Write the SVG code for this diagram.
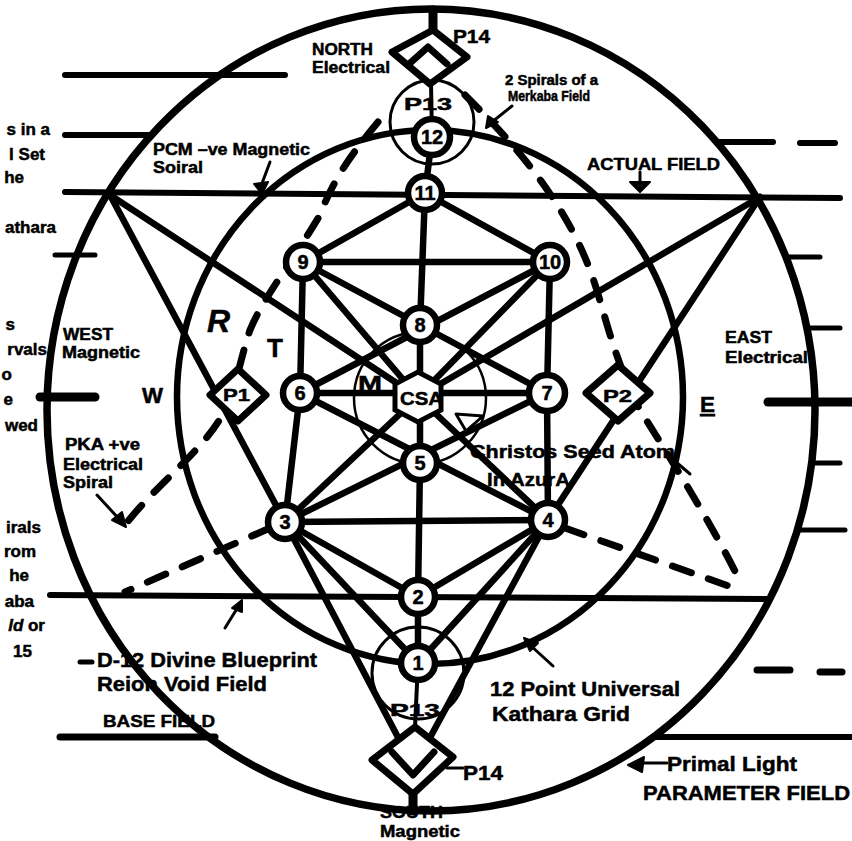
<svg xmlns="http://www.w3.org/2000/svg" width="852" height="841" viewBox="0 0 852 841">
<style>
.k{stroke:#000;fill:none;stroke-linecap:round;stroke-linejoin:round}
.g{stroke-width:6.5}
.dash{stroke:#000;fill:none;stroke-width:7;stroke-dasharray:20 18;stroke-linecap:round}
text{font-family:"Liberation Sans",Arial,sans-serif;font-weight:bold;fill:#000;stroke:#000;stroke-width:0.5}
.lab{font-size:16px}
.cut{font-size:17px;text-anchor:end}
.nd circle{fill:#fff;stroke:#000;stroke-width:6.5}
.nd text{font-size:20px;text-anchor:middle}
.dia{fill:#fff;stroke:#000;stroke-width:7;stroke-linejoin:round}
</style>
<rect width="852" height="841" fill="#fff"/>

<g id="field-lines" class="k">
  <line x1="65" y1="75" x2="285" y2="75" stroke-width="6"/>
  <line x1="65" y1="135" x2="152" y2="135" stroke-width="6"/>
  <line x1="55" y1="255" x2="95" y2="255" stroke-width="5"/>
  <line x1="40" y1="397" x2="95" y2="397" stroke-width="9"/>
  <line x1="50" y1="595" x2="770" y2="599" stroke-width="6"/>
  <line x1="80" y1="662" x2="92" y2="662" stroke-width="5"/>
  <line x1="60" y1="737" x2="215" y2="737" stroke-width="7"/>
  <line x1="717" y1="142" x2="773" y2="142" stroke-width="6"/>
  <line x1="800" y1="143" x2="835" y2="143" stroke-width="6"/>
  <line x1="65" y1="192" x2="840" y2="198" stroke-width="6"/>
  <line x1="785" y1="257" x2="820" y2="257" stroke-width="5"/>
  <line x1="807" y1="328" x2="840" y2="328" stroke-width="5"/>
  <line x1="768" y1="402" x2="852" y2="402" stroke-width="9"/>
  <line x1="812" y1="463" x2="840" y2="463" stroke-width="5"/>
  <line x1="797" y1="530" x2="845" y2="530" stroke-width="5"/>
  <line x1="757" y1="670" x2="790" y2="670" stroke-width="7"/>
  <line x1="820" y1="672" x2="842" y2="672" stroke-width="7"/>
  <line x1="657" y1="737" x2="852" y2="737" stroke-width="6"/>
</g>

<g id="circles" class="k">
  <ellipse cx="431" cy="410" rx="384" ry="401" stroke-width="7.5"/>
  <ellipse cx="430" cy="397" rx="253" ry="267" stroke-width="6.5"/>
  <circle cx="420" cy="398" r="66" stroke-width="2.5"/>
  <circle cx="432" cy="122" r="42" stroke-width="3"/>
  <circle cx="418" cy="673" r="46" stroke-width="3"/>
</g>

<g id="connectors" class="k g">
  <line x1="433" y1="10" x2="433" y2="30" stroke-width="9"/>
  <line x1="432" y1="137" x2="431" y2="83" stroke-width="4"/>
  <line x1="418" y1="663" x2="415" y2="727" stroke-width="4"/>
  <line x1="413" y1="795" x2="413" y2="811" stroke-width="9"/>
  <line x1="432" y1="137" x2="425" y2="193"/>
  <line x1="425" y1="193" x2="420" y2="325"/>
  <line x1="420" y1="325" x2="420" y2="463"/>
  <line x1="420" y1="463" x2="418" y2="597"/>
  <line x1="418" y1="597" x2="418" y2="663"/>
  <line x1="425" y1="193" x2="303" y2="262"/>
  <line x1="425" y1="193" x2="550" y2="262"/>
  <line x1="303" y1="262" x2="550" y2="262"/>
  <line x1="303" y1="262" x2="300" y2="393"/>
  <line x1="300" y1="393" x2="285" y2="522"/>
  <line x1="550" y1="262" x2="547" y2="393"/>
  <line x1="547" y1="393" x2="548" y2="520"/>
  <line x1="303" y1="262" x2="547" y2="393"/>
  <line x1="550" y1="262" x2="300" y2="393"/>
  <line x1="300" y1="393" x2="548" y2="520"/>
  <line x1="547" y1="393" x2="285" y2="522"/>
  <line x1="300" y1="393" x2="547" y2="393"/>
  <line x1="285" y1="522" x2="548" y2="520"/>
  <line x1="285" y1="522" x2="418" y2="597"/>
  <line x1="548" y1="520" x2="418" y2="597"/>
  <line x1="285" y1="522" x2="418" y2="663"/>
  <line x1="548" y1="520" x2="418" y2="663"/>
  <line x1="110" y1="195" x2="285" y2="522"/>
  <line x1="285" y1="522" x2="402" y2="745"/>
  <line x1="760" y1="197" x2="548" y2="520"/>
  <line x1="548" y1="520" x2="426" y2="745"/>
  <line x1="110" y1="195" x2="418" y2="397"/>
  <line x1="760" y1="197" x2="418" y2="397"/>
  <line x1="418" y1="397" x2="548" y2="520"/>
  <line x1="418" y1="397" x2="285" y2="522"/>
  <line x1="303" y1="262" x2="418" y2="397"/>
  <line x1="550" y1="262" x2="418" y2="397"/>
</g>

<g id="spirals">
  <path class="dash" d="M378,122 C355,150 335,175 320,215 C290,265 262,300 250,330 C240,360 238,380 225,410 C205,450 160,480 125,525"/>
  <path class="dash" d="M465,95 C500,130 560,190 590,270 C605,310 610,350 640,410 C665,450 710,520 742,585"/>
  <path class="dash" d="M270,528 L125,592"/>
  <path class="dash" d="M565,528 L740,590"/>
</g>

<g id="diamonds">
  <g id="P14-north">
    <polygon class="dia" points="433,30 467,57 430,84 392,52"/>
    <polyline class="k" stroke-width="7" points="409,64 428,47 447,64"/>
  </g>
  <g id="P14-south">
    <polygon class="dia" points="415,727 453,757 413,794 372,760"/>
    <polyline class="k" stroke-width="7" points="392,752 413,775 434,752"/>
  </g>
  <g id="P1">
    <polygon class="dia" stroke-width="4" points="238,369 266,395 238,421 210,395"/>
    <text x="223" y="401" font-size="17" textLength="27" lengthAdjust="spacingAndGlyphs">P1</text>
  </g>
  <g id="P2">
    <polygon class="dia" stroke-width="5" points="618,365 650,393 618,421 586,393"/>
    <text x="603" y="402" font-size="17" textLength="29" lengthAdjust="spacingAndGlyphs">P2</text>
  </g>
</g>

<g id="nodes">
  <g id="n12" class="nd"><circle cx="432" cy="137" r="18"/><text x="432" y="144">12</text></g>
  <g id="n11" class="nd"><circle cx="425" cy="193" r="17"/><text x="425" y="200">11</text></g>
  <g id="n9" class="nd"><circle cx="303" cy="262" r="17"/><text x="303" y="269">9</text></g>
  <g id="n10" class="nd"><circle cx="550" cy="262" r="17"/><text x="550" y="269">10</text></g>
  <g id="n8" class="nd"><circle cx="420" cy="325" r="17"/><text x="420" y="332">8</text></g>
  <g id="n6" class="nd"><circle cx="300" cy="393" r="17"/><text x="300" y="400">6</text></g>
  <g id="n7" class="nd"><circle cx="547" cy="393" r="18"/><text x="547" y="400">7</text></g>
  <g id="n5" class="nd"><circle cx="420" cy="463" r="17"/><text x="420" y="470">5</text></g>
  <g id="n3" class="nd"><circle cx="285" cy="522" r="17"/><text x="285" y="529">3</text></g>
  <g id="n4" class="nd"><circle cx="548" cy="520" r="17"/><text x="548" y="527">4</text></g>
  <g id="n2" class="nd"><circle cx="418" cy="597" r="17"/><text x="418" y="604">2</text></g>
  <g id="n1" class="nd"><circle cx="418" cy="663" r="17"/><text x="418" y="670">1</text></g>
  <g id="csa">
    <polygon points="418,372 441,384 441,410 418,422 395,410 395,384" fill="#fff" stroke="#000" stroke-width="5"/>
    <text x="400" y="405" font-size="18" textLength="43" lengthAdjust="spacingAndGlyphs">CSA</text>
  </g>
</g>

<g id="pointers" class="k">
  <path d="M270,162 L261,186" stroke-width="3"/>
  <path d="M254,184 L262,194 L268,182 Z" fill="#000" stroke-width="2"/>
  <path d="M512,106 L492,122" stroke-width="3"/>
  <path d="M486,128 L488,116 L498,122 Z" fill="#000" stroke-width="2"/>
  <path d="M640,172 L640,184" stroke-width="3"/>
  <path d="M630,182 L650,182 L640,192 Z" fill="#000" stroke-width="2"/>
  <path d="M97,495 L120,520" stroke-width="3"/>
  <path d="M126,527 L112,520 L122,512 Z" fill="#000" stroke-width="2"/>
  <path d="M553,666 L530,645" stroke-width="3"/>
  <path d="M524,638 L538,643 L530,651 Z" fill="#000" stroke-width="2"/>
  <path d="M643,763 L667,763" stroke-width="3"/>
  <path d="M628,765 L644,757 L642,772 Z" fill="#000" stroke-width="2"/>
  <path d="M447,768 L463,768" stroke-width="3"/>
  <path d="M676,462 L690,474" stroke-width="3"/>
  <path d="M225,628 L238,607" stroke-width="3"/>
  <path d="M242,600 L232,608 L242,612 Z" fill="#000" stroke-width="2"/>
  <polygon points="456,414 483,416 466,431" fill="none" stroke="#000" stroke-width="3"/>
</g>

<g id="labels">
  <text class="lab" x="312" y="55" textLength="61" lengthAdjust="spacingAndGlyphs">NORTH</text>
  <text class="lab" x="312" y="73" textLength="78" lengthAdjust="spacingAndGlyphs">Electrical</text>
  <text x="453" y="43" font-size="19" textLength="37" lengthAdjust="spacingAndGlyphs">P14</text>
  <text x="404" y="110" font-size="17" textLength="48" lengthAdjust="spacingAndGlyphs">P13</text>
  <text x="505" y="85" font-size="14" textLength="93" lengthAdjust="spacingAndGlyphs">2 Spirals of a</text>
  <text x="508" y="101" font-size="14" textLength="82" lengthAdjust="spacingAndGlyphs">Merkaba Field</text>
  <text class="lab" x="153" y="155" textLength="157" lengthAdjust="spacingAndGlyphs">PCM –ve Magnetic</text>
  <text class="lab" x="153" y="173" textLength="50" lengthAdjust="spacingAndGlyphs">Soiral</text>
  <text class="lab" x="587" y="170" textLength="133" lengthAdjust="spacingAndGlyphs">ACTUAL FIELD</text>
  <text class="lab" x="63" y="340" textLength="50" lengthAdjust="spacingAndGlyphs">WEST</text>
  <text class="lab" x="62" y="358" textLength="78" lengthAdjust="spacingAndGlyphs">Magnetic</text>
  <text x="142" y="403" font-size="22" textLength="21" lengthAdjust="spacingAndGlyphs">W</text>
  <text x="207" y="332" font-size="32" font-family="Liberation Serif" font-style="italic" font-weight="normal" stroke-width="0">R</text>
  <text x="267" y="357" font-size="26" font-weight="normal" stroke-width="0">T</text>
  <text x="358" y="390" font-size="20" textLength="24" lengthAdjust="spacingAndGlyphs">M</text>
  <text class="lab" x="65" y="450" font-size="15" textLength="75" lengthAdjust="spacingAndGlyphs">PKA +ve</text>
  <text class="lab" x="63" y="470" textLength="80" lengthAdjust="spacingAndGlyphs">Electrical</text>
  <text class="lab" x="63" y="488" textLength="50" lengthAdjust="spacingAndGlyphs">Spiral</text>
  <text class="lab" x="725" y="343" textLength="47" lengthAdjust="spacingAndGlyphs">EAST</text>
  <text class="lab" x="725" y="363" textLength="83" lengthAdjust="spacingAndGlyphs">Electrical</text>
  <text x="700" y="412" font-size="22" textLength="15" lengthAdjust="spacingAndGlyphs" text-decoration="underline">E</text>
  <text x="470" y="458" font-size="19" textLength="205" lengthAdjust="spacingAndGlyphs">Christos Seed Atom</text>
  <text x="487" y="486" font-size="19" textLength="83" lengthAdjust="spacingAndGlyphs">In AzurA</text>
  <text x="97" y="667" font-size="21" textLength="220" lengthAdjust="spacingAndGlyphs">D-12 Divine Blueprint</text>
  <text x="97" y="691" font-size="21" textLength="170" lengthAdjust="spacingAndGlyphs">Reion Void Field</text>
  <text x="103" y="727" font-size="17" textLength="112" lengthAdjust="spacingAndGlyphs">BASE FIELD</text>
  <text x="490" y="696" font-size="20" textLength="190" lengthAdjust="spacingAndGlyphs">12 Point Universal</text>
  <text x="492" y="721" font-size="20" textLength="138" lengthAdjust="spacingAndGlyphs">Kathara Grid</text>
  <text x="463" y="780" font-size="20" textLength="40" lengthAdjust="spacingAndGlyphs">P14</text>
  <text x="390" y="716" font-size="17" textLength="50" lengthAdjust="spacingAndGlyphs">P13</text>
  <text x="667" y="771" font-size="21" textLength="130" lengthAdjust="spacingAndGlyphs">Primal Light</text>
  <text x="643" y="800" font-size="21" textLength="207" lengthAdjust="spacingAndGlyphs">PARAMETER FIELD</text>
  <text x="380" y="818" font-size="17" textLength="63" lengthAdjust="spacingAndGlyphs">SOUTH</text>
  <text x="380" y="837" font-size="17" textLength="80" lengthAdjust="spacingAndGlyphs">Magnetic</text>
</g>

<g id="clipped-notes">
  <text class="cut" x="50" y="135">s in a</text>
  <text class="cut" x="45" y="160">l Set</text>
  <text class="cut" x="24" y="183">he</text>
  <text class="cut" x="56" y="233">athara</text>
  <text class="cut" x="15" y="330">s</text>
  <text class="cut" x="47" y="355">rvals</text>
  <text class="cut" x="12" y="380">o</text>
  <text class="cut" x="13" y="405">e</text>
  <text class="cut" x="38" y="431">wed</text>
  <text class="cut" x="41" y="533">irals</text>
  <text class="cut" x="36" y="557">rom</text>
  <text class="cut" x="29" y="581">he</text>
  <text class="cut" x="34" y="607">aba</text>
  <text class="cut" x="45" y="631"><tspan font-style="italic">ld</tspan> or</text>
  <text class="cut" x="32" y="657">15</text>
</g>
</svg>
